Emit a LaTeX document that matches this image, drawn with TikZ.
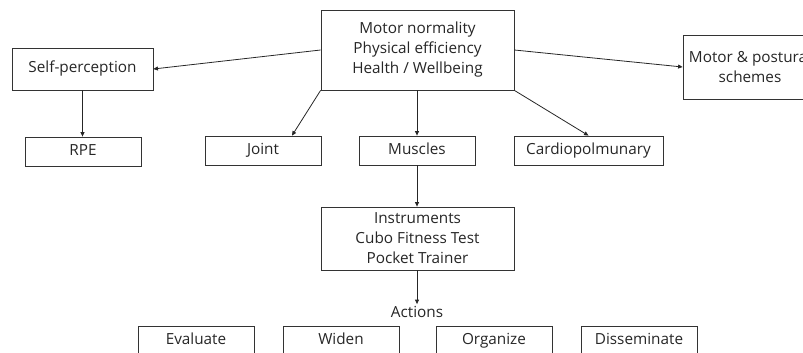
\documentclass[tikz,border=0pt]{standalone}
\usepackage{fontspec}
\setmainfont{Open Sans}
\usetikzlibrary{arrows.meta,calc}
\begin{document}
\begin{tikzpicture}[x=1pt,y=-1pt,
  box/.style={draw=black!80,line width=0.8pt,align=center,inner sep=0pt,
    font=\fontsize{15.3}{20}\selectfont,text=black!85},
  onebox/.style={box,text height=11pt,text depth=4pt},
  lbl/.style={inner sep=2pt,font=\fontsize{15.3}{20}\selectfont,text=black!85},
  link/.style={draw=black!85,line width=0.8pt,-{Triangle[length=4.5pt,width=4pt]}}]
\useasboundingbox (0,0) rectangle (803,353);
\clip (0,0) rectangle (803,353);
% central goal box
\node[box,minimum width=193pt,minimum height=80pt] (top) at (417.5,50)
  {Motor normality\\Physical efficiency\\Health / Wellbeing};
% first level
\node[onebox,minimum width=141pt,minimum height=42pt] (self) at (82.5,69) {Self-perception};
\node[box,minimum width=134pt,minimum height=64pt] (motor) at (750,67) {Motor \& postural\\schemes};
% second level
\node[onebox,minimum width=116pt,minimum height=29pt] (rpe) at (83,151.5) {RPE};
\node[onebox,minimum width=116pt,minimum height=29pt] (joint) at (263,150.5) {Joint};
\node[onebox,minimum width=116pt,minimum height=29pt] (muscles) at (417,150.5) {Muscles};
\node[onebox,minimum width=149pt,minimum height=29pt] (cardio) at (588.5,150.5) {Cardiopolmunary};
% instruments
\node[box,minimum width=193pt,minimum height=63pt] (instr) at (417.5,238.5)
  {Instruments\\Cubo Fitness Test\\Pocket Trainer};
\node[lbl] (actions) at (417,312) {Actions};
% action boxes
\node[onebox,minimum width=116pt,minimum height=29pt] (eval) at (196,340.5) {Evaluate};
\node[onebox,minimum width=116pt,minimum height=29pt] (widen) at (341,340.5) {Widen};
\node[onebox,minimum width=116pt,minimum height=29pt] (org) at (494,340.5) {Organize};
\node[onebox,minimum width=116pt,minimum height=29pt] (diss) at (639,340.5) {Disseminate};
% connectors
\draw[link] (top.west) -- (self.east);
\draw[link] (top.east) -- (motor.west);
\draw[link] (self.south) -- (self.south |- rpe.north);
\draw[link] (top.south west) -- ($(joint.north)+(29,0)$);
\draw[link] (top.south -| muscles.north) -- (muscles.north);
\draw[link] (top.south east) -- (cardio.north);
\draw[link] (muscles.south) -- (muscles.south |- instr.north);
\draw[link] (muscles.south |- instr.south) -- (muscles.south |- actions.north);
\end{tikzpicture}
\end{document}
